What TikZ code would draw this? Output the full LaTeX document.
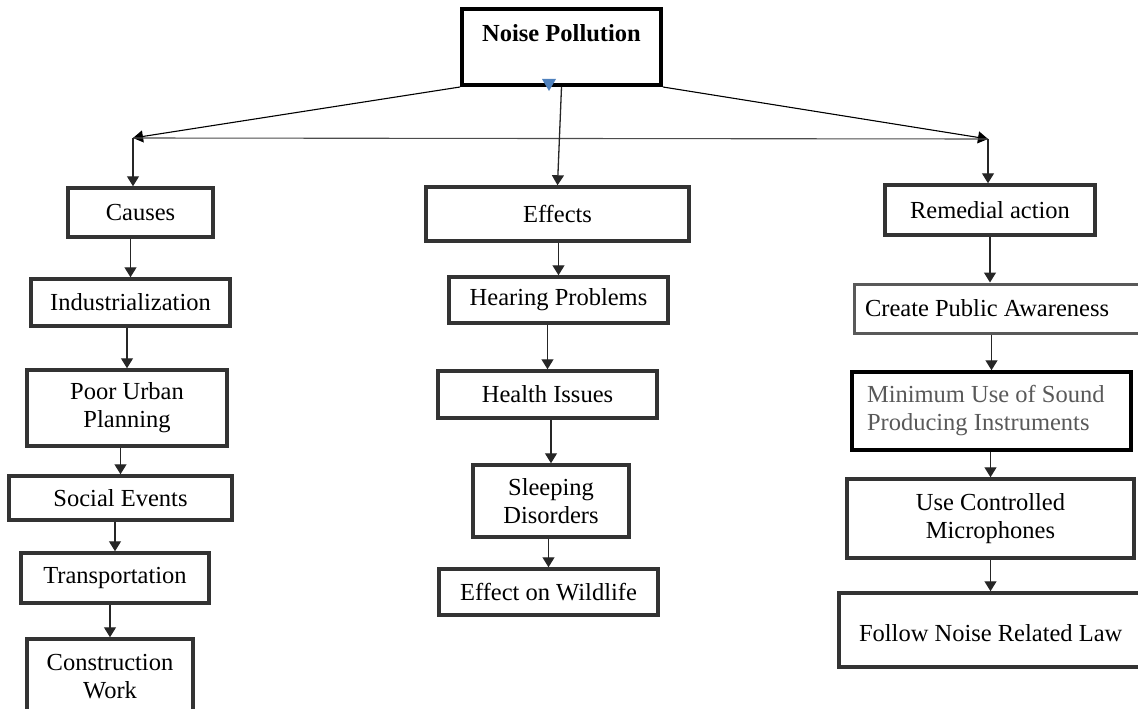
\documentclass[tikz,border=0pt]{standalone}
\usepackage{fontspec}
\setmainfont{Liberation Serif}
\usetikzlibrary{arrows.meta}
\definecolor{markblue}{RGB}{79,129,189}

\begin{document}
\begin{tikzpicture}[x=1pt,y=-1pt,
  box/.style={draw=black!80,line width=3.5pt,rectangle,inner sep=0pt,align=center,font=\fontsize{24.5}{28}\selectfont},
  link/.style={draw=black!85,line width=1.3pt,-{Triangle[width=12pt,length=10pt]}}]
\useasboundingbox (0,0) rectangle (1138,709);
% top box:
\node[box,draw=black,line width=4pt,minimum width=199pt,minimum height=76pt] (noise) at (561.5,47) {\textbf{Noise Pollution}\\ \mbox{}};
\path[fill=markblue] (542,79) -- (556,79) -- (549,91) -- cycle;
\coordinate (lj) at (133,138);
\coordinate (rj) at (988,139);
% causes column:
\node[box,minimum width=145pt,minimum height=49pt] (causes) at (140.5,212.5) {Causes};
\node[box,minimum width=199pt,minimum height=47pt] (indus) at (130.5,302.5) {Industrialization};
\node[box,minimum width=200pt,minimum height=76pt] (poor) at (127,408) {Poor Urban\\Planning};
\node[box,minimum width=223pt,minimum height=44pt] (social) at (120.5,498) {Social Events};
\node[box,minimum width=188pt,minimum height=50pt] (transp) at (115,578) {Transportation};
\node[box,minimum width=166pt,minimum height=76pt] (constr) at (110,677) {Construction\\Work};
% effects column:
\node[box,minimum width=263pt,minimum height=54pt] (effects) at (557.5,214) {Effects};
\node[box,minimum width=219pt,minimum height=46pt] (hearing) at (558.5,300) {Hearing Problems};
\node[box,minimum width=219pt,minimum height=47pt] (health) at (547.5,394.5) {Health Issues};
\node[box,minimum width=156pt,minimum height=72pt] (sleep) at (551,501) {Sleeping\\Disorders};
\node[box,minimum width=219pt,minimum height=46pt] (wild) at (548.5,592) {Effect on Wildlife};
% remedial column:
\node[box,minimum width=210pt,minimum height=50pt] (remedial) at (990,210) {Remedial action};
\node[box,draw=black!65,line width=3pt,align=flush left,inner xsep=11pt,text width=274pt,minimum height=49pt] (create) at (1002,308.5) {Create Public Awareness};
\node[box,draw=black,align=flush left,inner xsep=15pt,text width=249pt,minimum height=78pt,text=black!65] (minimum) at (991.5,411) {Minimum Use of Sound\\Producing Instruments};
\node[box,minimum width=287pt,minimum height=79pt] (usecm) at (990.5,518.5) {Use Controlled\\Microphones};
\node[box,align=flush left,inner xsep=20pt,text width=281pt,text height=48pt,text depth=26pt] (follow) at (999.5,630) {Follow Noise Related Law};
% arrows:
\draw[link,draw=black,line width=1.1pt] (noise.south west) -- (lj);
\draw[link,draw=black,line width=1.1pt] (noise.south east) -- (rj);
\draw[draw=black!70,line width=1.1pt] (lj) -- (rj);
\draw[link] (lj) -- (lj |- causes.north);
\draw[link] (noise.south) -- (effects.north);
\draw[link] (rj) -- (rj |- remedial.north);
\draw[link] (causes.south -| indus) -- (indus);
\draw[link] (indus.south -| poor) -- (poor);
\draw[link] (poor.south -| social) -- (social);
\draw[link] (social.south -| transp) -- (transp);
\draw[link] (transp.south -| constr) -- (constr);
\draw[link] (effects.south -| hearing) -- (hearing);
\draw[link] (hearing.south -| health) -- (health);
\draw[link] (health.south -| sleep) -- (sleep);
\draw[link] (sleep.south -| wild) -- (wild);
\draw[link] (remedial) -- (create.north -| remedial);
\draw[link] (create.south -| minimum) -- (minimum);
\draw[link] (minimum.south -| usecm) -- (usecm);
\draw[link] (usecm) -- (usecm |- follow.north);
\end{tikzpicture}
\end{document}
